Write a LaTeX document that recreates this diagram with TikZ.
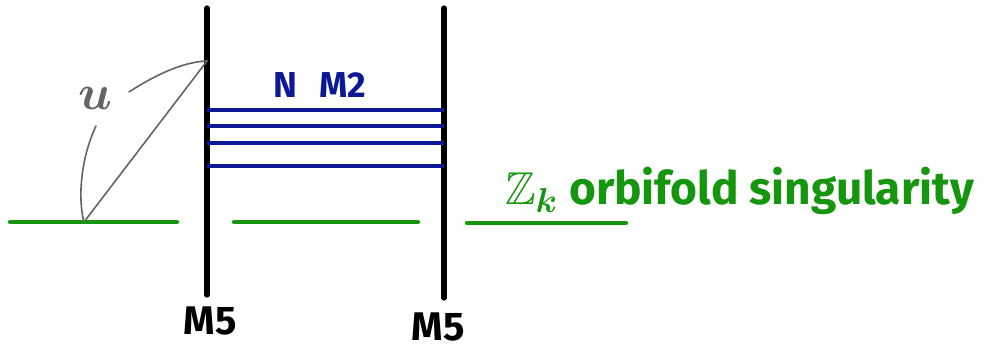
\documentclass[tikz,border=0pt]{standalone}
\usepackage{amssymb}
\usepackage{bm}
\usepackage{fontspec}
\setmainfont{Fira Sans}
\usetikzlibrary{positioning}
\definecolor{braneblue}{RGB}{12,24,150}
\definecolor{orbgreen}{RGB}{22,150,14}
\definecolor{anglegray}{RGB}{100,100,100}
\tikzset{
  m5line/.style   = {line width=2.6pt,black,line cap=round},
  m2line/.style   = {line width=2pt,braneblue},
  orbline/.style  = {line width=2.1pt,orbgreen,line cap=round},
  angline/.style  = {line width=0.8pt,anglegray,line cap=round},
  bigtext/.style  = {font=\fontsize{20}{22}\selectfont\bfseries}
}

\begin{document}
\begin{tikzpicture}[x=0.5pt,y=-0.5pt]
  \useasboundingbox (0,0) rectangle (1006,351);
  % the two M5-branes
  \coordinate (m5ltop) at (207,8);
  \coordinate (m5lbot) at (207,295);
  \coordinate (m5rtop) at (444,8);
  \coordinate (m5rbot) at (444,298);
  \draw[m5line] (m5ltop) -- (m5lbot);
  \draw[m5line] (m5rtop) -- (m5rbot);
  \node[bigtext] (m5l) at (210,321) {M5};
  \node[bigtext] (m5r) at (438,327) {M5};
  % N M2-branes stretched between them
  \foreach \y in {110,126,143,166}
    \draw[m2line] (207,\y) -- (444,\y);
  \node[braneblue,font=\fontsize{18}{20}\selectfont\bfseries] (nm2) at (320,85) {N\hspace{0.6em}M2};
  % orbifold line, cut by the M5s
  \draw[orbline] (10,222) -- (177,222);
  \draw[orbline] (234,222) -- (418,222);
  \draw[orbline] (467,223) -- (626,223);
  \node[orbgreen,anchor=base west,font=\fontsize{23}{26}\selectfont\bfseries] (zk) at (498,205)
    {$\bm{\mathbb{Z}}_{\bm{k}}$ orbifold singularity};
  % angle u
  \coordinate (apex) at (207,61);
  \coordinate (foot) at (84,222);
  \node[anglegray,font=\fontsize{30}{32}\selectfont] (ulab) at (95,98) {$\bm{u}$};
  \draw[angline] (foot) -- (apex);
  \draw[angline] (129,92) .. controls (160,72) and (185,62) .. (apex);
  \draw[angline] (96,126) .. controls (80,160) and (78,200) .. (foot);
\end{tikzpicture}
\end{document}
